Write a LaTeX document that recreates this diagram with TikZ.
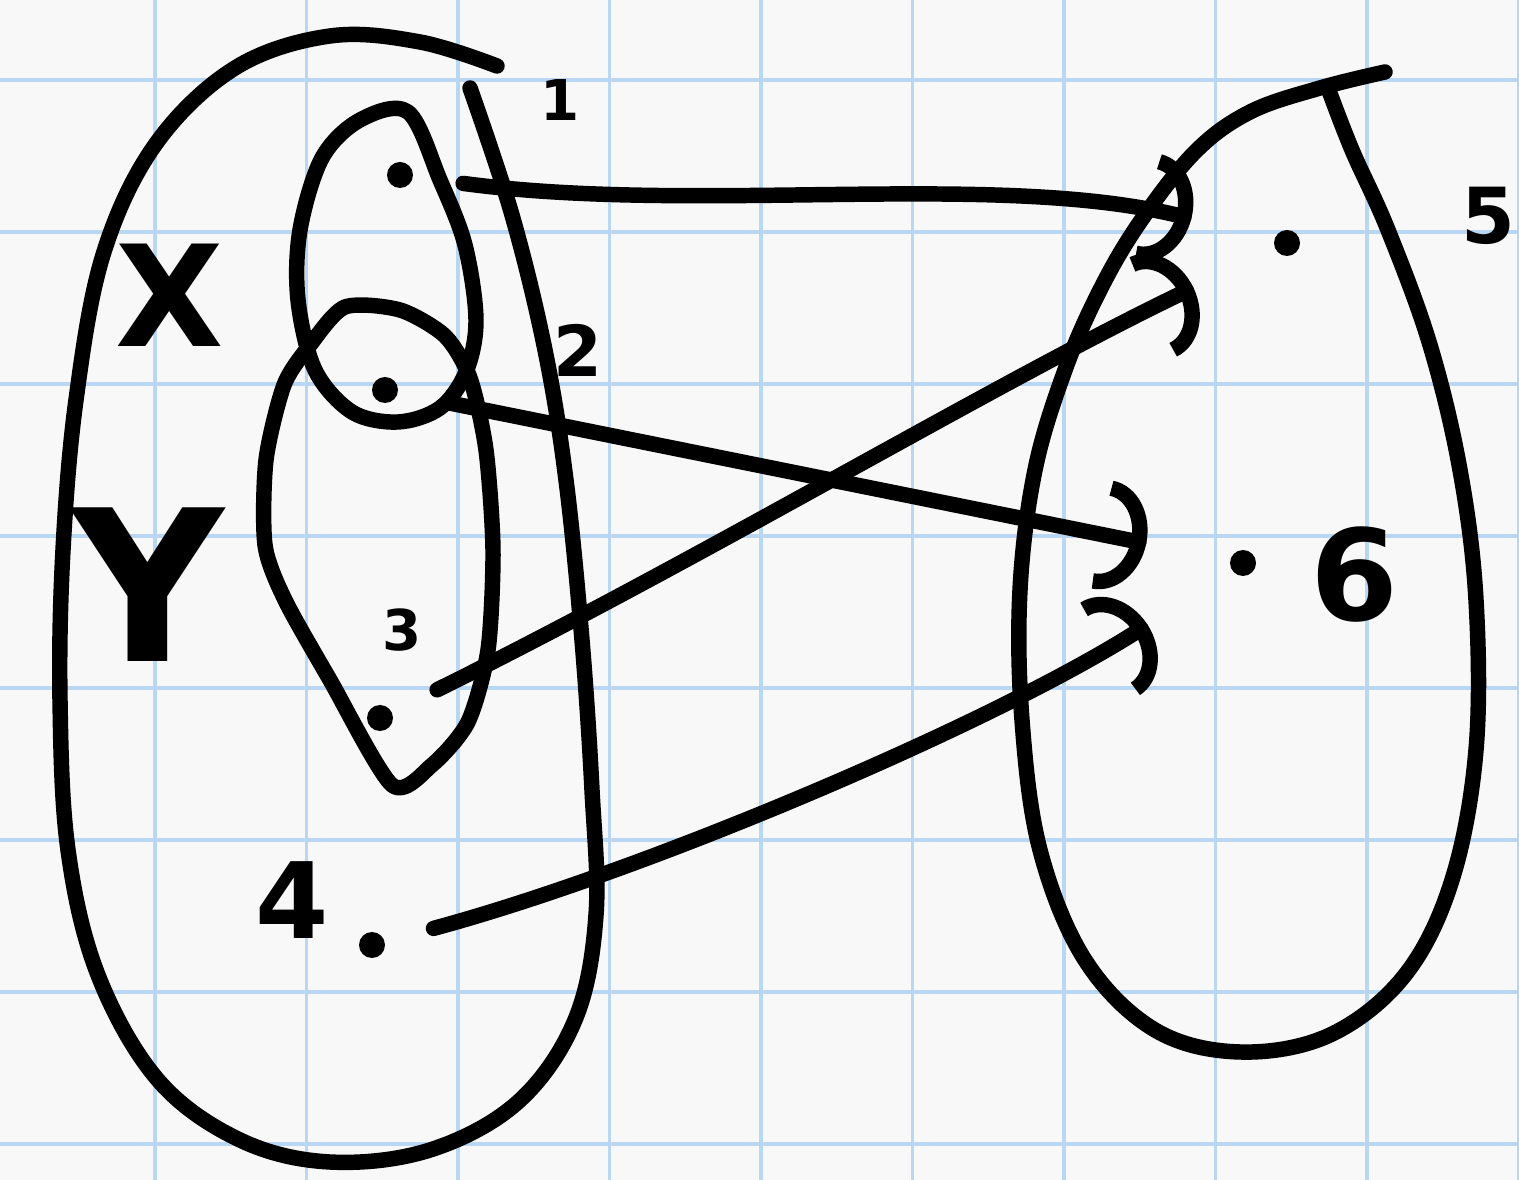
\documentclass[tikz,border=0pt]{standalone}
\usepackage{fontspec}
\setsansfont{DejaVu Sans}
\usepackage{tikz}
\usetikzlibrary{arrows.meta}
\definecolor{gridcol}{HTML}{B9D6F2}
\definecolor{papercol}{HTML}{F8F8F8}
\definecolor{inkcol}{HTML}{000000}

\begin{document}
\begin{tikzpicture}[x=0.1mm, y=-0.1mm,
  gridline/.style={draw=gridcol, line width=0.9pt},
  blob/.style={draw=inkcol, line width=4.4pt, line cap=round, line join=round},
  dot/.style={circle, fill=inkcol, minimum size=2.6mm, inner sep=0pt},
  lbl/.style={font=\sffamily\bfseries, text=inkcol, inner sep=0pt},
  conn/.style={-{Arc Barb[length=4.5mm, width=11mm]}, line width=4.4pt,
    line cap=round, shorten <=5mm},
]

% =================== paper ===================
\fill[papercol] (0,0) rectangle (1519,1180);
\useasboundingbox (0,0) rectangle (1519,1180);
\foreach \k in {0,...,9}
  \draw[gridline] ({155+151.5*\k},0) -- ({155+151.5*\k},1180);
\foreach \k in {0,...,7}
  \draw[gridline] (0,{80+152*\k}) -- (1519,{80+152*\k});

% =================== LEFT: domain ===================
\draw[blob] plot[smooth, tension=0.6] coordinates {(497,66) (420,42) (330,36)
  (235,68) (155,145) (103,255) (76,400) (63,550) (60,700) (68,850) (98,975)
  (158,1080) (240,1140) (330,1162) (430,1150) (518,1102) (575,1020) (596,915)
  (592,790) (582,640) (566,480) (545,350) (512,215) (470,88)};

% subset X
\draw[blob] plot[smooth cycle, tension=0.55] coordinates {(408,112) (360,120)
  (322,158) (300,230) (298,300) (315,370) (352,412) (398,422) (440,408)
  (466,372) (476,320) (465,245) (440,180)};

% subset Y
\draw[blob] plot[smooth cycle, tension=0.45] coordinates {(310,345) (345,307)
  (400,310) (445,336) (470,378) (486,450) (493,550) (488,650) (468,722)
  (432,765) (392,785) (330,680) (285,600) (265,545) (266,460) (284,385)};

\node[lbl, font=\sffamily\bfseries\fontsize{40}{40}\selectfont] (lx) at (170,295) {X};
\node[lbl, font=\sffamily\bfseries\fontsize{60}{60}\selectfont] (ly) at (148,585) {Y};

\node[dot] (d1) at (400,175) {};
\node[dot] (d2) at (385,390) {};
\node[dot] (d3) at (380,718) {};
\node[dot] (d4) at (372,945) {};

\node[lbl, font=\sffamily\bfseries\fontsize{16}{16}\selectfont] (l1) at (560,100) {1};
\node[lbl, font=\sffamily\bfseries\fontsize{20}{20}\selectfont] (l2) at (578,350) {2};
\node[lbl, font=\sffamily\bfseries\fontsize{16}{16}\selectfont] (l3) at (402,630) {3};
\node[lbl, font=\sffamily\bfseries\fontsize{30}{30}\selectfont] (l4) at (292,900) {4};

% =================== RIGHT: codomain ===================
\draw[blob] plot[smooth, tension=0.6] coordinates {(1385,72) (1320,88)
  (1250,112) (1195,152) (1140,222) (1100,290) (1065,370) (1035,470)
  (1020,590) (1022,720) (1040,850) (1085,960) (1155,1030) (1240,1052)
  (1330,1035) (1405,975) (1452,880) (1476,750) (1476,600) (1460,470)
  (1430,345) (1388,230) (1352,150) (1328,88)};

\node[dot] (d5) at (1287,243) {};
\node[dot] (d6) at (1243,563) {};

\node[lbl, font=\sffamily\bfseries\fontsize{22}{22}\selectfont] (l5) at (1488,216) {5};
\node[lbl, font=\sffamily\bfseries\fontsize{36}{36}\selectfont] (l6) at (1355,575) {6};

% =================== mapping ===================
\draw[conn, shorten >=8.5mm] (d1) .. controls (700,215) and (1000,170) .. (d5);
\draw[conn, shorten >=9mm] (d3) .. controls (700,560) and (1000,380) .. (d5);
\draw[conn, shorten >=8.5mm] (d2) -- (d6);
\draw[conn, shorten >=10mm] (d4) .. controls (650,870) and (1000,720) .. (d6);

\end{tikzpicture}
\end{document}
